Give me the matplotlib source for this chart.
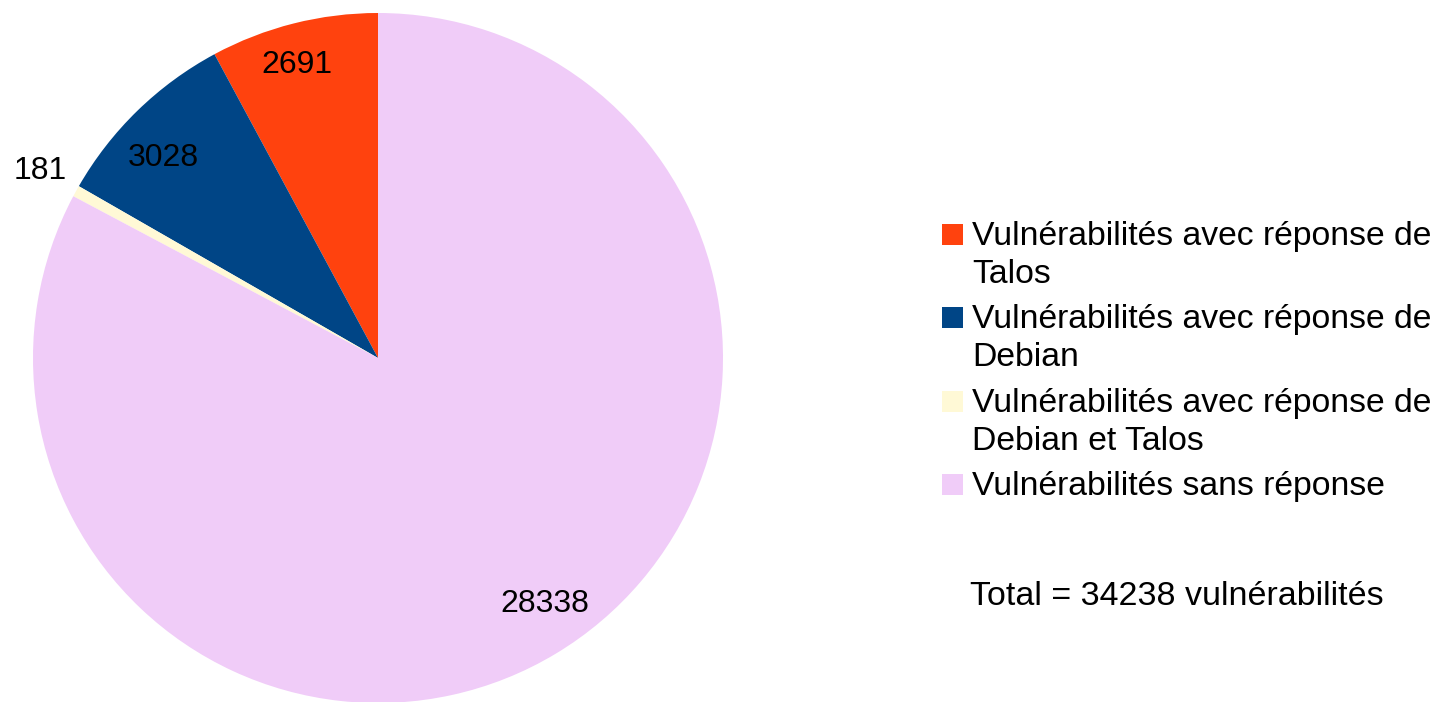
import matplotlib
matplotlib.use("Agg")
import matplotlib.pyplot as plt
from matplotlib.patches import Rectangle
import numpy as np

categories = [
    "Vulnérabilités avec réponse de\nTalos",
    "Vulnérabilités avec réponse de\nDebian",
    "Vulnérabilités avec réponse de\nDebian et Talos",
    "Vulnérabilités sans réponse",
]
values = [2691, 3028, 181, 28338]
colors = ["#ff420e", "#004586", "#fff9d6", "#f0ccf8"]
total_text = "Total = 34238 vulnérabilités"

plt.rcParams['font.family'] = ['Liberation Sans', 'DejaVu Sans']

W, H = 1436, 702
fig = plt.figure(figsize=(W / 100, H / 100), dpi=100)
cx, cy, r = 378, 358, 345
ax = fig.add_axes([(cx - r) / W, (H - cy - r) / H, 2 * r / W, 2 * r / H])
wedges, _ = ax.pie(values, colors=colors, startangle=90, counterclock=True,
                   radius=1, wedgeprops=dict(linewidth=0))
ax.set_xlim(-1, 1)
ax.set_ylim(-1, 1)
ax.set_aspect('equal')
ax.axis('off')

# label placement (style): distance from centre and small angular shift
dists = [0.881, 0.851, 1.120, 0.862]
shifts = [1.3, 2.9, 0.0, 3.2]
for w, v, d, s in zip(wedges, values, dists, shifts):
    ang = np.deg2rad((w.theta1 + w.theta2) / 2 + s)
    ax.text(d * np.cos(ang), d * np.sin(ang), str(v), ha='center', va='center',
            fontsize=23, color='black', clip_on=False)

# legend (drawn manually to match first-line aligned markers)
lfs = 24.3
x_sq, sq = 942, 21
x_txt = 972
base0, pitch, line_h = 245, 83.4, 38
for i, (lab, col) in enumerate(zip(categories, colors)):
    b = base0 + i * pitch
    fig.patches.append(Rectangle((x_sq / W, 1 - b / H), sq / W, sq / H,
                                 transform=fig.transFigure, facecolor=col,
                                 edgecolor='none'))
    for j, line in enumerate(lab.split("\n")):
        fig.text(x_txt / W, 1 - (b + j * line_h) / H, line, ha='left',
                 va='baseline', fontsize=lfs)

fig.text(970 / W, 1 - 605 / H, total_text, ha='left', va='baseline', fontsize=24.5)

fig.savefig("out.png", dpi=100)
